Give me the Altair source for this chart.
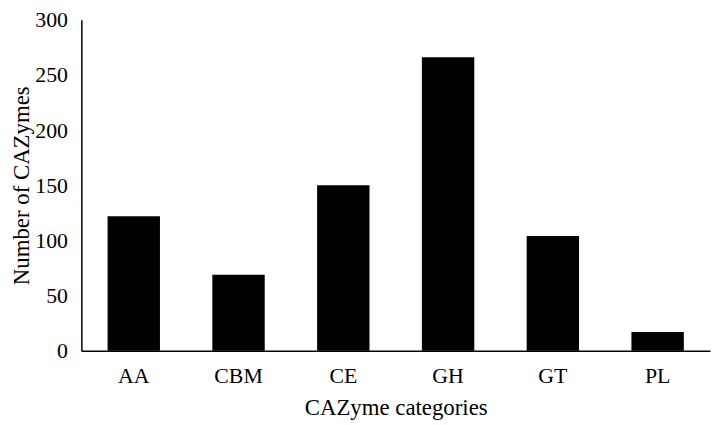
import altair as alt
import pandas as pd

categories = ["AA", "CBM", "CE", "GH", "GT", "PL"]
counts = [122, 69, 150, 266, 104, 17]

df = pd.DataFrame({"category": categories, "count": counts})

font = "Liberation Serif"

chart = alt.Chart(df).mark_bar(color="black").encode(
    x=alt.X("category:N", sort=categories,
            scale=alt.Scale(paddingInner=0.5, paddingOuter=0.25),
            axis=alt.Axis(title="CAZyme categories", labelAngle=0, ticks=False,
                          labelPadding=15, titlePadding=10)),
    y=alt.Y("count:Q", scale=alt.Scale(domain=[0, 300]),
            axis=alt.Axis(title="Number of CAZymes", values=[0, 50, 100, 150, 200, 250, 300],
                          ticks=False, grid=False, labelPadding=14, titlePadding=1)),
).properties(
    width=634, height=334,
    autosize=alt.AutoSizeParams(type="none"),
    padding={"left": 74, "top": 10, "right": 2, "bottom": 73},
).configure_view(stroke=None).configure_axis(
    labelFont=font, titleFont=font, labelFontSize=22, titleFontSize=23,
    labelColor="black", titleColor="black", titleFontWeight="normal",
    domainColor="black", domainWidth=1.5, grid=False,
)

chart.save("out.html", embed_options={"renderer": "svg", "actions": False})
